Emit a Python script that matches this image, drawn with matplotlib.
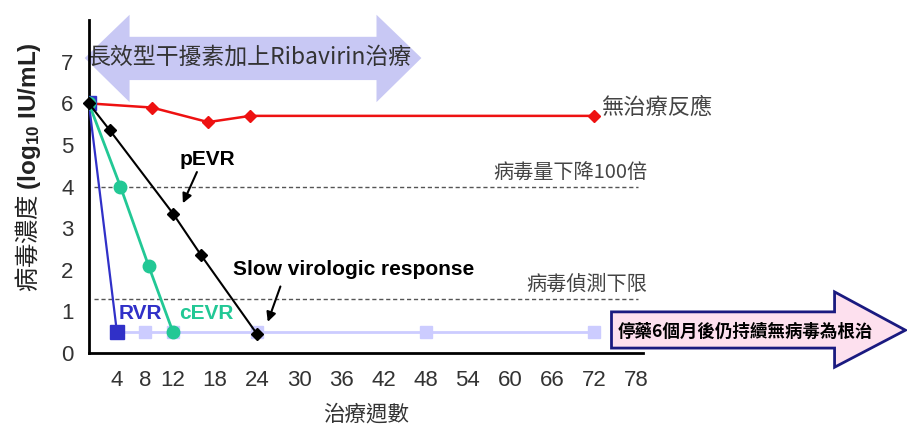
import matplotlib
matplotlib.use("Agg")
import matplotlib.pyplot as plt
from matplotlib.patches import Polygon

plt.rcParams["font.family"] = ["Noto Sans CJK TC", "Liberation Sans", "DejaVu Sans"]
plt.rcParams["mathtext.fontset"] = "custom"
plt.rcParams["mathtext.rm"] = "Liberation Sans"
plt.rcParams["mathtext.bf"] = "Liberation Sans:bold"
plt.rcParams["mathtext.it"] = "Liberation Sans:italic"

# weeks of treatment vs viral load (log10 IU/mL)
no_resp_weeks = [0, 9, 17, 23, 72]
no_resp_vals = [6.0, 5.9, 5.55, 5.7, 5.7]

slow_weeks = [0, 3, 12, 16, 24]
slow_vals = [6.0, 5.35, 3.35, 2.35, 0.45]

cevr_weeks = [0, 4.5, 8.5, 12]
cevr_vals = [6.0, 4.0, 2.1, 0.5]

rvr_weeks = [0, 4]
rvr_vals = [6.0, 0.5]

undetect_weeks = [4, 8, 12, 24, 48, 72]
undetect_vals = [0.5, 0.5, 0.5, 0.5, 0.5, 0.5]

x_ticks = [4, 8, 12, 18, 24, 30, 36, 42, 48, 54, 60, 66, 72, 78]
y_ticks = [0, 1, 2, 3, 4, 5, 6, 7]
drop_100x = 4.0
detect_limit = 1.3

fig = plt.figure(figsize=(9.07, 4.29), dpi=100)
ax = fig.add_axes([0.098, 0.177, 0.611, 0.776])
ax.set_xlim(0, 79)
ax.set_ylim(0, 8)

# top double arrow (treatment period)
dbl = Polygon([(-0.6, 7.09), (5.8, 8.13), (5.8, 7.6), (41, 7.6), (41, 8.13),
               (47.4, 7.09), (41, 6.03), (41, 6.56), (5.8, 6.56), (5.8, 6.03)],
              closed=True, facecolor="#c8c8f4", edgecolor="none", zorder=1,
              clip_on=False)
ax.add_patch(dbl)
ax.text(23, 7.1, "長效型干擾素加上Ribavirin治療", fontsize=16.5, color="#333333",
        ha="center", va="center", zorder=2,
        family=["Noto Sans CJK TC", "Liberation Serif"])

# reference lines
ax.hlines([drop_100x, detect_limit], 0.8, 78.3, colors="#555555",
          linestyles=(0, (3, 2)), linewidth=1, zorder=2)

# undetectable baseline
ax.plot(undetect_weeks, undetect_vals, color="#ccccff", lw=2, marker="s",
        markersize=9, markeredgecolor="#ccccff", zorder=3)

ax.plot(no_resp_weeks, no_resp_vals, color="#ee1111", lw=1.8, marker="D",
        markersize=6.5, zorder=4)
ax.plot(rvr_weeks, rvr_vals, color="#3030c8", lw=1.6, marker="s",
        markersize=10, zorder=4)
ax.plot(cevr_weeks, cevr_vals, color="#22c895", lw=2, marker="o",
        markersize=9, zorder=5)
ax.plot(slow_weeks, slow_vals, color="black", lw=1.5, marker="D",
        markersize=6.5, zorder=6, clip_on=False)

# labels
ax.text(73, 5.9, "無治療反應", fontsize=16, color="#444444", ha="left",
        va="center", clip_on=False)
ax.text(79.6, 4.33, "病毒量下降100倍", fontsize=14.5, color="#444444",
        ha="right", va="center", clip_on=False)
ax.text(79.6, 1.66, "病毒偵測下限", fontsize=14.5, color="#444444",
        ha="right", va="center", clip_on=False)

bold_kw = dict(family=["Liberation Sans"], fontweight="bold", fontsize=15)
arrow_kw = dict(arrowstyle="-|>", color="black", lw=1.5, mutation_scale=14,
                shrinkA=0, shrinkB=0)
ax.text(16.9, 4.64, "pEVR", ha="center", va="center", color="black", **bold_kw)
ax.annotate("", xy=(13.4, 3.6), xytext=(15.4, 4.35), arrowprops=arrow_kw)
ax.text(37.7, 2.0, "Slow virologic response", ha="center", va="center",
        color="black", **bold_kw)
ax.annotate("", xy=(25.5, 0.75), xytext=(27.3, 1.6), arrowprops=arrow_kw)
ax.text(7.4, 0.96, "RVR", color="#3030c8", ha="center", va="center", **bold_kw)
ax.text(16.8, 0.96, "cEVR", color="#22c895", ha="center", va="center", **bold_kw)

# pink cure arrow
pink = Polygon([(74.5, 0.99), (106.3, 0.99), (106.3, 1.47), (116.4, 0.55),
                (106.3, -0.34), (106.3, 0.12), (74.5, 0.12)], closed=True,
               facecolor="#fde0ee", edgecolor="#1a1a80", lw=2, zorder=7,
               clip_on=False)
ax.add_patch(pink)
ax.text(93.6, 0.52, "停藥6個月後仍持續無病毒為根治", fontsize=12.6, fontweight="bold",
        color="black", ha="center", va="center", zorder=8, clip_on=False)

# axes styling
for side in ("top", "right"):
    ax.spines[side].set_visible(False)
ax.spines["left"].set_linewidth(2)
ax.spines["bottom"].set_linewidth(2)
ax.set_xticks(x_ticks)
ax.set_yticks(y_ticks)
ax.tick_params(axis="both", length=0, labelsize=16, labelcolor="#333333")
ax.tick_params(axis="x", pad=12)
ax.tick_params(axis="y", pad=11)
for lbl in ax.get_xticklabels() + ax.get_yticklabels():
    lbl.set_family(["Liberation Sans"])

ax.set_xlabel("治療週數", fontsize=15.5, color="#333333", labelpad=9)
fig.text(0.031, 0.61, r"病毒濃度 $\mathbf{(log_{10}\ IU/mL)}$", rotation=90,
         fontsize=17.5, color="#222222", ha="center", va="center")

fig.savefig("out.png", dpi=100)
